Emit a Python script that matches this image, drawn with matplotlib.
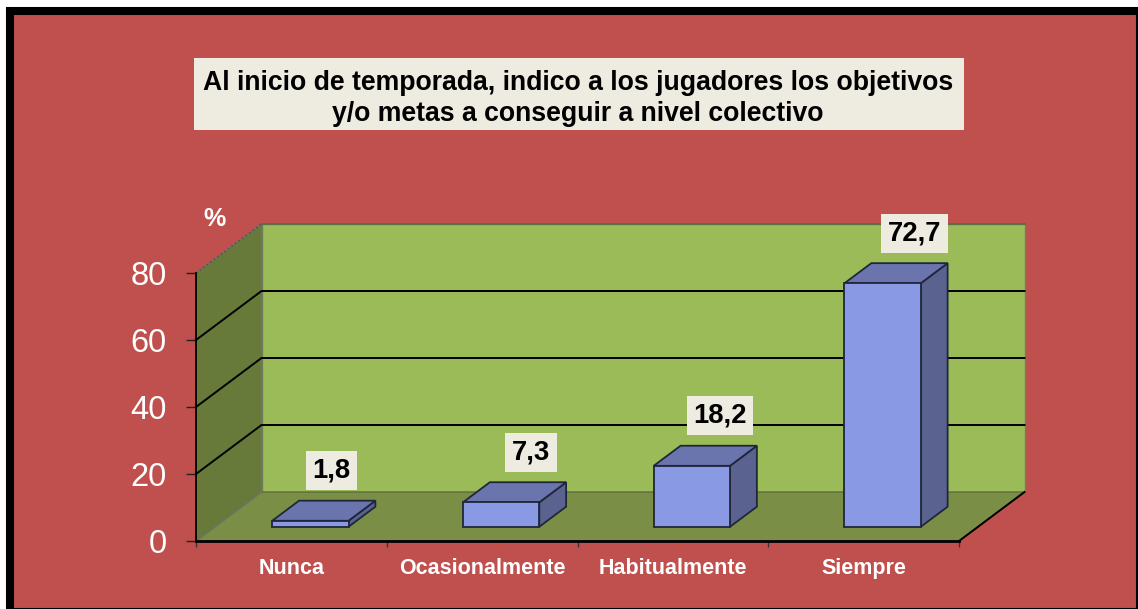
import matplotlib
matplotlib.use("Agg")
import matplotlib.pyplot as plt
from matplotlib.patches import Polygon, Rectangle

W, H = 1138, 609

categorias = ["Nunca", "Ocasionalmente", "Habitualmente", "Siempre"]
valores = [1.8, 7.3, 18.2, 72.7]
etiquetas = ["1,8", "7,3", "18,2", "72,7"]
marcas_y = [0, 20, 40, 60, 80]
titulo = "Al inicio de temporada, indico a los jugadores los objetivos\ny/o metas a conseguir a nivel colectivo"

plt.rcParams["font.family"] = ["Liberation Sans", "DejaVu Sans"]

ROJO = "#C0504D"
VERDE = "#9BBB59"
PARED = "#677A39"
SUELO = "#7A8F45"
FRENTE = "#8A99E3"
ARRIBA = "#6A75AE"
LADO = "#5A6290"
CAJA = "#EEECE1"

# shift of the back plane, in data units
DX = 65.5 / 190.75
DY = 49 / 3.35
# label shift to the right of each bar, pixels
corridos = [21, 30, 28, 32]


def p(x, y, d=0.0):
    return (x + d * DX, y + d * DY)


def cara(ax, puntos, color, z, ec="none", lw=0.0):
    ax.add_patch(Polygon(puntos, closed=True, fc=color, ec=ec, lw=lw, zorder=z, clip_on=False))


fig = plt.figure(figsize=(W / 100, H / 100), dpi=100, facecolor="white")

# black frame
fig.add_artist(Rectangle((10 / W, 1 - 612 / H), 1130 / W, 601 / H, transform=fig.transFigure,
                         fc=ROJO, ec="black", lw=5.8, zorder=-1))

ax = fig.add_axes([196 / W, 1 - 541 / H, 763 / W, 268 / H])
ax.set_xlim(0, 4)
ax.set_ylim(0, 80)
ax.patch.set_alpha(0)

# walls and floor
cara(ax, [p(0, 0, 1), p(4, 0, 1), p(4, 80, 1), p(0, 80, 1)], VERDE, 1, "#6F7F5A", 1.0)
cara(ax, [p(0, 0, 0), p(4, 0, 0), p(4, 0, 1), p(0, 0, 1)], SUELO, 1.5, "#55633A", 0.8)
cara(ax, [p(0, 0, 0), p(0, 0, 1), p(0, 80, 1), p(0, 80, 0)], PARED, 2, "#6E7468", 1.0)

# gridlines
for v in marcas_y[1:-1]:
    a, b, c = p(0, v, 0), p(0, v, 1), p(4, v, 1)
    ax.plot([a[0], b[0], c[0]], [a[1], b[1], c[1]], color="black", lw=1.4, zorder=3, clip_on=False)
a, b, c = p(0, 80, 0), p(0, 80, 1), p(4, 80, 1)
ax.plot([a[0], b[0]], [a[1], b[1]], color="#555555", lw=1.2, ls=":", zorder=3, clip_on=False)
ax.plot([b[0], c[0]], [b[1], c[1]], color="#5A6A40", lw=1.2, zorder=3, clip_on=False)
a, b = p(4, 0, 0), p(4, 0, 1)
ax.plot([a[0], b[0]], [a[1], b[1]], color="black", lw=1.4, zorder=3, clip_on=False)

# bars
for i, v in enumerate(valores):
    x0, x1 = i + 0.3, i + 0.7
    d0, d1 = 0.29, 0.70
    borde = dict(ec="#20263A", lw=1.3)
    cara(ax, [p(x1, 0, d0), p(x1, 0, d1), p(x1, v, d1), p(x1, v, d0)], LADO, 4, **borde)
    cara(ax, [p(x0, v, d0), p(x1, v, d0), p(x1, v, d1), p(x0, v, d1)], ARRIBA, 4, **borde)
    cara(ax, [p(x0, 0, d0), p(x1, 0, d0), p(x1, v, d0), p(x0, v, d0)], FRENTE, 5, **borde)

    ax.annotate(etiquetas[i], xy=p(i + 0.5, v, d0), xytext=(corridos[i], 50), textcoords="offset pixels",
                ha="center", va="center", fontsize=19.8, fontweight="bold", color="black", zorder=6,
                bbox=dict(boxstyle="square,pad=0.24", fc=CAJA, ec="none"), annotation_clip=False)

# axes
for lado in ["top", "right"]:
    ax.spines[lado].set_visible(False)
ax.spines["left"].set_linewidth(1.3)
ax.spines["bottom"].set_linewidth(2.0)
ax.spines["left"].set_zorder(3.5)
ax.spines["bottom"].set_zorder(3.5)
ax.set_yticks(marcas_y)
ax.tick_params(axis="y", length=7, width=1, color="#222222", labelsize=23.5, labelcolor="white", pad=14)
ax.set_xticks(range(5))
ax.set_xticklabels([])
ax.tick_params(axis="x", which="major", length=4, width=1, color="#333333")
ax.set_xticks([i + 0.5 for i in range(4)], minor=True)
ax.set_xticklabels(categorias, minor=True, fontsize=15.5, fontweight="bold", color="white")
ax.tick_params(axis="x", which="minor", length=0, pad=12.5)

fig.text(214 / W, 1 - 219 / H, "%", ha="center", va="center", fontsize=18, fontweight="bold", color="white")

# title box
fig.add_artist(Rectangle((194 / W, 1 - 130 / H), 770 / W, 72 / H, transform=fig.transFigure, fc=CAJA, ec="none", zorder=-0.5))
fig.text(578 / W, 1 - 98.5 / H, titulo, ha="center", va="center", fontsize=19.2, fontweight="bold",
         color="black", linespacing=1.26)

fig.savefig("out.png", dpi=100)
